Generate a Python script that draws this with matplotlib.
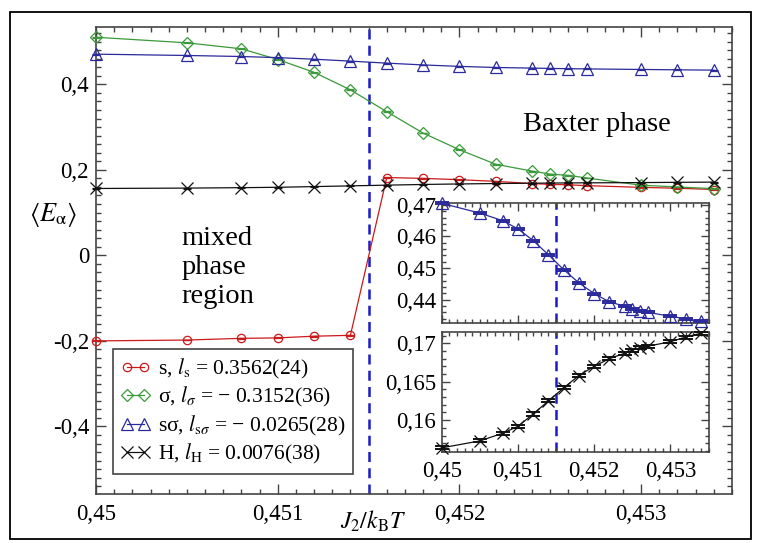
import matplotlib
matplotlib.use("Agg")
import matplotlib.pyplot as plt
from matplotlib.ticker import MultipleLocator, FuncFormatter
from matplotlib.patches import Rectangle

plt.rcParams['font.family'] = ['Liberation Serif', 'DejaVu Serif']
plt.rcParams['mathtext.fontset'] = 'stix'

# ---------------- data ----------------
J = [0.45, 0.4505, 0.4508, 0.451, 0.4512, 0.4514, 0.4516, 0.4518, 0.452,
     0.4522, 0.4524, 0.4525, 0.4526, 0.4527, 0.453, 0.4532, 0.4534]
E_s = [-0.200, -0.198, -0.194, -0.193, -0.189, -0.187, 0.182, 0.180, 0.177,
       0.173, 0.168, 0.166, 0.165, 0.163, 0.159, 0.157, 0.154]
E_sigma = [0.510, 0.497, 0.483, 0.458, 0.428, 0.387, 0.336, 0.286, 0.247,
           0.213, 0.197, 0.190, 0.187, 0.181, 0.164, 0.160, 0.156]
E_ssigma = [0.4705, 0.4674, 0.4650, 0.4624, 0.4587, 0.4542, 0.4495, 0.4453, 0.4419,
            0.4393, 0.4379, 0.4371, 0.4365, 0.4360, 0.4347, 0.4339, 0.4331]
E_H = [0.1564, 0.1573, 0.1583, 0.1592, 0.1608, 0.1625, 0.1642, 0.1658, 0.1670,
       0.1680, 0.1687, 0.1691, 0.1694, 0.1696, 0.1702, 0.1708, 0.1713]
err_ssigma = [0.0003] * 17
err_H = [0.0002] * 17
J_c = 0.4515

labels = [r"s, $l_{\mathrm{s}}$ = 0.3562(24)",
          r"σ, $l_{\sigma}$ = − 0.3152(36)",
          r"sσ, $l_{\mathrm{s}\sigma}$ = − 0.0265(28)",
          r"H, $l_{\mathrm{H}}$ = 0.0076(38)"]
xticks_main = [0.45, 0.451, 0.452, 0.453]

# ---------------- styles ----------------
RED = '#cc1a1a'
GREEN = '#3a9a3a'
BLUE = '#2a2a9c'
BLACK = '#111111'
DASH = '#1a1acc'
SPINE = '#444444'
W, H = 760, 543

def fx(px):
    return px / W

def fy(py):
    return 1 - py / H

def comma(v, pos=None):
    v = round(v, 6) + 0.0
    return f"{v:g}".replace('.', ',')

fig = plt.figure(figsize=(7.6, 5.43), dpi=100)
fig.patches.append(Rectangle((fx(10), fy(539)), fx(751) - fx(10), fy(12) - fy(539),
                             transform=fig.transFigure, fill=False,
                             edgecolor='black', lw=1.3))

def style_axes(ax, major_len, minor_len, fs):
    for sp in ax.spines.values():
        sp.set_color(SPINE)
        sp.set_linewidth(1.2)
    ax.tick_params(which='both', direction='in', top=True, right=True,
                   color=SPINE, width=1.0, labelsize=fs)
    ax.tick_params(which='major', length=major_len)
    ax.tick_params(which='minor', length=minor_len)

# ---------------- main axes ----------------
ax = fig.add_axes([fx(96), fy(494), fx(732) - fx(96), fy(27) - fy(494)])
ax.set_xlim(0.45, 0.4535)
ax.set_ylim(-0.558, 0.534)
style_axes(ax, 7, 3.5, 16.5)
ax.tick_params(axis='x', pad=7)
ax.tick_params(axis='y', pad=5)
ax.set_xticks(xticks_main)
ax.xaxis.set_minor_locator(MultipleLocator(0.0001))
ax.yaxis.set_major_locator(MultipleLocator(0.2))
ax.yaxis.set_minor_locator(MultipleLocator(0.02))
ax.xaxis.set_major_formatter(FuncFormatter(comma))
ax.yaxis.set_major_formatter(FuncFormatter(comma))

ax.axvline(J_c, color=DASH, lw=1.8, ls=(0, (4, 2.5)), zorder=1)

series = [(E_s, RED, 'o', 6), (E_sigma, GREEN, 'D', 6.5),
          (E_ssigma, BLUE, '^', 9), (E_H, BLACK, 'x', 8)]
handles = []
for (vals, col, mk, ms), lab in zip(series, labels):
    h, = ax.plot(J, vals, color=col, lw=0.9, marker=mk, ms=ms,
                 mfc='none', mec=col, mew=0.9, clip_on=False, zorder=3, label=lab)
    handles.append(h)
    ax.errorbar(J, vals, yerr=[0.001] * len(J), fmt='none', ecolor=col,
                elinewidth=0.8, capsize=3, capthick=0.9, zorder=3, clip_on=False)

leg = ax.legend(handles=handles, loc='upper left',
                bbox_to_anchor=((113 - 96) / 636, (494 - 349) / 467),
                borderaxespad=0, numpoints=2, handlelength=1.4, handletextpad=0.35,
                labelspacing=0.21, borderpad=0.35, fontsize=15.5, fancybox=False,
                framealpha=1, edgecolor=SPINE)
leg.get_frame().set_linewidth(1.2)

fig.text(fx(181.7), fy(245), "mixed", fontsize=20.5, va='baseline', ha='left')
fig.text(fx(181.7), fy(274), "phase", fontsize=20.5, va='baseline', ha='left')
fig.text(fx(181.7), fy(303), "region", fontsize=20.5, va='baseline', ha='left')
fig.text(fx(523), fy(130.7), "Baxter phase", fontsize=20.5, va='baseline', ha='left')
fig.text(fx(53), fy(221), r"$\langle E_{\mathrm{\alpha}}\rangle$", fontsize=19,
         va='baseline', ha='center')
fig.text(fx(340), fy(529), r"$J_2/k_{\mathrm{B}}T$", fontsize=17,
         va='baseline', ha='left')

# ---------------- insets ----------------
def make_inset(top, bottom, vals, err, col, mk, ms, ylim, ymaj, ymin, xlabels):
    a = fig.add_axes([fx(441.7), fy(bottom), fx(708.5) - fx(441.7), fy(top) - fy(bottom)])
    a.set_facecolor('white')
    a.set_xlim(0.45, 0.4535)
    a.set_ylim(*ylim)
    style_axes(a, 6, 3, 16.5)
    a.tick_params(axis='x', pad=7)
    a.tick_params(axis='y', pad=4)
    a.set_xticks(xticks_main)
    a.xaxis.set_minor_locator(MultipleLocator(0.0001))
    a.yaxis.set_major_locator(MultipleLocator(ymaj))
    a.yaxis.set_minor_locator(MultipleLocator(ymin))
    a.xaxis.set_major_formatter(FuncFormatter(comma))
    a.yaxis.set_major_formatter(FuncFormatter(comma))
    if not xlabels:
        a.tick_params(axis='x', labelbottom=False)
    a.axvline(J_c, color=DASH, lw=1.8, ls=(0, (4, 2.5)), zorder=1)
    a.plot(J, vals, color=col, lw=0.9, marker=mk, ms=ms, mfc='none', mec=col,
           mew=0.9, clip_on=False, zorder=3)
    a.errorbar(J, vals, yerr=err, fmt='none', ecolor=col, elinewidth=1.0,
               capsize=5, capthick=1.4, zorder=3, clip_on=False)
    return a

make_inset(203.3, 323.3, E_ssigma, err_ssigma, BLUE, '^', 9,
           (0.4325, 0.4705), 0.01, 0.002, False)
make_inset(331.7, 451.7, E_H, err_H, BLACK, 'x', 8,
           (0.1559, 0.1715), 0.005, 0.001, True)

fig.savefig("out.png", dpi=100)
